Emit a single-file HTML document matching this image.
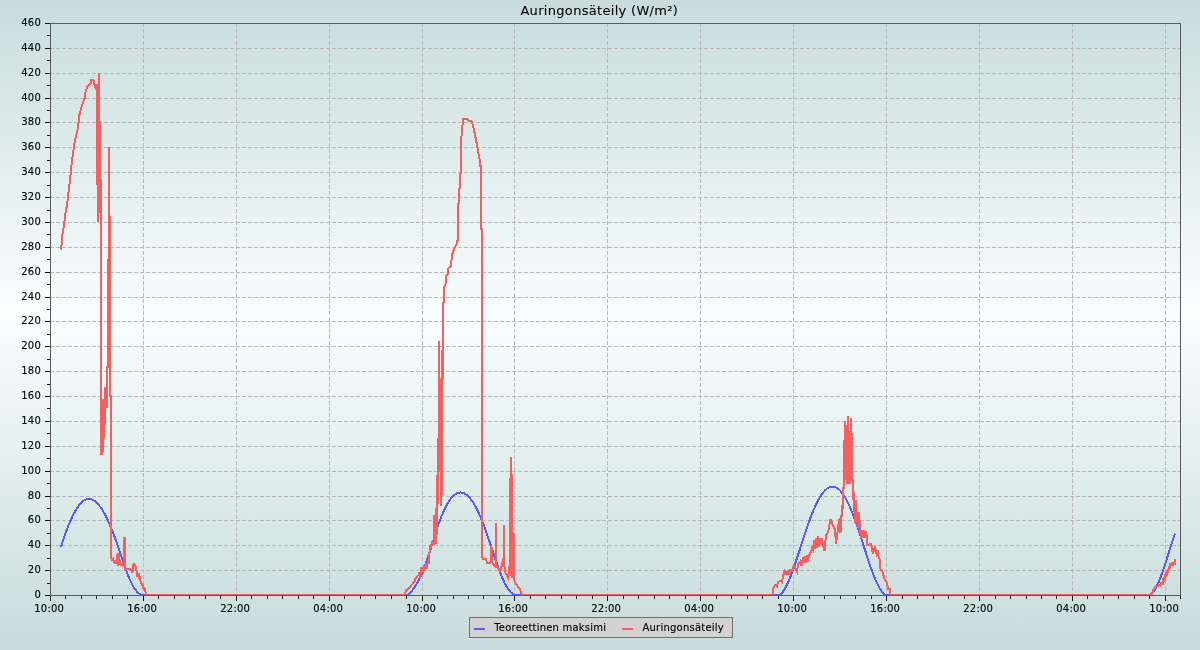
<!DOCTYPE html>
<html lang="fi"><head><meta charset="utf-8"><title>Auringonsäteily (W/m²)</title>
<style>
html,body{margin:0;padding:0;width:1200px;height:650px;overflow:hidden;background:#c8dcdb}
svg{display:block}
text{font-family:"DejaVu Sans","Liberation Sans",sans-serif;fill:#000000;stroke:#000000;stroke-width:0.13px}
.t{font-size:10px;letter-spacing:0.25px}
.l{font-size:10px;letter-spacing:0.22px}
.h{font-size:13px;letter-spacing:0.31px;stroke-width:0.08px}
</style></head><body>
<svg width="1200" height="650" viewBox="0 0 1200 650">
<defs>
<linearGradient id="bg" x1="0" y1="0" x2="0" y2="1"><stop offset="0" stop-color="#c8dcdb"/><stop offset="0.48" stop-color="#fafefe"/><stop offset="1" stop-color="#c7dbda"/></linearGradient>
<linearGradient id="pg" x1="0" y1="0" x2="0" y2="1"><stop offset="0" stop-color="#cbdedd"/><stop offset="0.52" stop-color="#f9fefe"/><stop offset="1" stop-color="#cde0df"/></linearGradient>
<mask id="tm" maskUnits="userSpaceOnUse" x="0" y="0" width="1200" height="650"><rect x="0" y="0" width="1200" height="650" fill="#fff"/></mask>
</defs>
<rect x="0" y="0" width="1200" height="650" fill="url(#bg)"/>
<rect x="51" y="24" width="1129" height="571" fill="url(#pg)"/>
<g stroke="#b9b7b9" stroke-width="1" stroke-dasharray="4 2" shape-rendering="crispEdges" fill="none">
<line x1="143.5" y1="23" x2="143.5" y2="595"/>
<line x1="236.5" y1="23" x2="236.5" y2="595"/>
<line x1="329.5" y1="23" x2="329.5" y2="595"/>
<line x1="422.5" y1="23" x2="422.5" y2="595"/>
<line x1="514.5" y1="23" x2="514.5" y2="595"/>
<line x1="607.5" y1="23" x2="607.5" y2="595"/>
<line x1="700.5" y1="23" x2="700.5" y2="595"/>
<line x1="793.5" y1="23" x2="793.5" y2="595"/>
<line x1="886.5" y1="23" x2="886.5" y2="595"/>
<line x1="979.5" y1="23" x2="979.5" y2="595"/>
<line x1="1072.5" y1="23" x2="1072.5" y2="595"/>
<line x1="1165.5" y1="23" x2="1165.5" y2="595"/>
<line x1="50" y1="570.5" x2="1180" y2="570.5"/>
<line x1="50" y1="545.5" x2="1180" y2="545.5"/>
<line x1="50" y1="520.5" x2="1180" y2="520.5"/>
<line x1="50" y1="496.5" x2="1180" y2="496.5"/>
<line x1="50" y1="471.5" x2="1180" y2="471.5"/>
<line x1="50" y1="446.5" x2="1180" y2="446.5"/>
<line x1="50" y1="421.5" x2="1180" y2="421.5"/>
<line x1="50" y1="396.5" x2="1180" y2="396.5"/>
<line x1="50" y1="371.5" x2="1180" y2="371.5"/>
<line x1="50" y1="346.5" x2="1180" y2="346.5"/>
<line x1="50" y1="321.5" x2="1180" y2="321.5"/>
<line x1="50" y1="297.5" x2="1180" y2="297.5"/>
<line x1="50" y1="272.5" x2="1180" y2="272.5"/>
<line x1="50" y1="247.5" x2="1180" y2="247.5"/>
<line x1="50" y1="222.5" x2="1180" y2="222.5"/>
<line x1="50" y1="197.5" x2="1180" y2="197.5"/>
<line x1="50" y1="172.5" x2="1180" y2="172.5"/>
<line x1="50" y1="147.5" x2="1180" y2="147.5"/>
<line x1="50" y1="122.5" x2="1180" y2="122.5"/>
<line x1="50" y1="98.5" x2="1180" y2="98.5"/>
<line x1="50" y1="73.5" x2="1180" y2="73.5"/>
<line x1="50" y1="48.5" x2="1180" y2="48.5"/>
</g>
<g fill="none" stroke-width="2" stroke-linejoin="miter" stroke-linecap="butt" shape-rendering="crispEdges">
<polyline stroke="#5c5cf5" points="61,547 62,543.77 63,540.65 64,537.62 65,534.7 66,531.88 67,529.17 68,526.57 69,524.07 70,521.69 71,519.42 72,517.26 73,515.21 74,513.28 75,511.46 76,509.76 77,508.18 78,506.72 79,505.38 80,504.16 81,503.06 82,502.09 83,501.25 84,500.53 85,499.95 86,499.49 87,499.16 88,498.96 89,498.9 90,498.97 91,499.17 92,499.49 93,499.95 94,500.52 95,501.22 96,502.04 97,502.98 98,504.03 99,505.2 100,506.49 101,507.88 102,509.38 103,511 104,512.71 105,514.53 106,516.46 107,518.48 108,520.6 109,522.82 110,525.14 111,527.54 112,530.03 113,532.61 114,535.25 115,537.96 116,540.73 117,543.56 118,546.43 119,549.34 120,552.29 121,555.26 122,558.23 123,561.2 124,564.13 125,567.01 126,569.83 127,572.55 128,575.16 129,577.64 130,579.97 131,582.14 132,584.14 133,585.98 134,587.64 135,589.14 136,590.47 137,591.63 138,592.62 139,593.45 140,594.11 141,594.6 142,594.93 143,595 144,595 144.7,594.98 408,595 408,595 409,593.97 410,592.89 411,591.76 412,590.56 413,589.3 414,587.95 415,586.51 416,584.97 417,583.33 418,581.56 419,579.67 420,577.65 421,575.49 422,573.17 423,570.69 424,568.05 425,565.31 426,562.5 427,559.67 428,556.81 429,553.91 430,550.94 431,547.89 432,544.76 433,541.56 434,538.33 435,535.11 436,531.92 437,528.79 438,525.77 439,522.87 440,520.11 441,517.48 442,514.98 443,512.61 444,510.37 445,508.27 446,506.29 447,504.45 448,502.74 449,501.16 450,499.72 451,498.4 452,497.22 453,496.17 454,495.24 455,494.45 456,493.8 457,493.27 458,492.87 459,492.6 460,492.47 461,492.47 462,492.59 463,492.85 464,493.24 465,493.76 466,494.4 467,495.18 468,496.08 469,497.1 470,498.24 471,499.5 472,500.88 473,502.37 474,503.98 475,505.7 476,507.53 477,509.46 478,511.51 479,513.65 480,515.9 481,518.25 482,520.69 483,523.23 484,525.87 485,528.59 486,531.38 487,534.23 488,537.14 489,540.09 490,543.07 491,546.07 492,549.08 493,552.09 494,555.1 495,558.08 496,561.02 497,563.92 498,566.76 499,569.53 500,572.2 501,574.77 502,577.23 503,579.56 504,581.74 505,583.77 506,585.63 507,587.32 508,588.84 509,590.2 510,591.39 511,592.42 512,593.29 513,594.01 514,594.58 515,595 774.7,595 774.7,594.99 775.7,595 776.7,595 777.7,595 778.7,595 779.7,594.9 780.7,594.14 781.7,593.15 782.7,591.94 783.7,590.54 784.7,588.94 785.7,587.17 786.7,585.23 787.7,583.13 788.7,580.89 789.7,578.51 790.7,576.01 791.7,573.39 792.7,570.68 793.7,567.87 794.7,564.99 795.7,562.03 796.7,559.02 797.7,555.97 798.7,552.88 799.7,549.77 800.7,546.65 801.7,543.52 802.7,540.41 803.7,537.31 804.7,534.25 805.7,531.24 806.7,528.28 807.7,525.38 808.7,522.56 809.7,519.82 810.7,517.16 811.7,514.59 812.7,512.11 813.7,509.72 814.7,507.43 815.7,505.24 816.7,503.16 817.7,501.18 818.7,499.32 819.7,497.57 820.7,495.94 821.7,494.44 822.7,493.06 823.7,491.81 824.7,490.69 825.7,489.7 826.7,488.85 827.7,488.12 828.7,487.53 829.7,487.08 830.7,486.76 831.7,486.58 832.7,486.54 833.7,486.63 834.7,486.87 835.7,487.24 836.7,487.76 837.7,488.42 838.7,489.22 839.7,490.16 840.7,491.23 841.7,492.43 842.7,493.76 843.7,495.22 844.7,496.8 845.7,498.51 846.7,500.34 847.7,502.28 848.7,504.34 849.7,506.52 850.7,508.8 851.7,511.2 852.7,513.7 853.7,516.3 854.7,519 855.7,521.79 856.7,524.65 857.7,527.58 858.7,530.57 859.7,533.61 860.7,536.68 861.7,539.78 862.7,542.89 863.7,546.02 864.7,549.13 865.7,552.24 866.7,555.32 867.7,558.38 868.7,561.38 869.7,564.34 870.7,567.23 871.7,570.04 872.7,572.76 873.7,575.39 874.7,577.9 875.7,580.29 876.7,582.55 877.7,584.66 878.7,586.61 879.7,588.4 880.7,590 881.7,591.42 882.7,592.63 883.7,593.63 884.7,594.4 885.7,594.93 886.7,595 887.7,595 888.7,595 1149.4,595 1149.4,595 1150.4,594.64 1151.4,594 1152.4,593.08 1153.4,591.9 1154.4,590.47 1155.4,588.82 1156.4,586.96 1157.4,584.9 1158.4,582.66 1159.4,580.26 1160.4,577.71 1161.4,575.02 1162.4,572.22 1163.4,569.32 1164.4,566.33 1165.4,563.27 1166.4,560.16 1167.4,557.01 1168.4,553.84 1169.4,550.66 1170.4,547.49 1171.4,544.35 1172.4,541.25 1173.4,538.21 1174.4,535.24 1175,533.49"/>
<polyline stroke="#f46060" points="61,249.5 61.8,242 62.5,234 64,225 65.3,214 67,205 68.2,195 69.2,186 70,180 71,170 72,161 73.5,150 75,140 77.5,130 79,120 79.5,114.5 82,105.5 84.5,98.5 85.8,90.5 88,85.5 90.8,83.5 91,79.5 92.5,79.5 94,81 94.5,84.5 96,90 96.5,84.5 97,185 97.5,84.5 98.5,221.5 99,73 99.5,211 100,121 100.8,211 101,404 101.5,455 102,399 102.5,455 103,399 103.5,441 104,399 104.5,427.5 105,387 105.5,407 106,387 106.5,407 107,407 107,367 108,367 108,260 109,260 109,147 109,217 110,217 110,396 111,396 111,558 112,560 113,559 114,562 115,563 116,561 117,563 117.5,554 118.5,554 119,563.5 120,562 121,565 122,565.5 123,563 124,566 124,538 125,538 125,569 127,568.5 130,569 131,570 132,572 133,571 133.5,564 134.5,564 135,566 136,567 136.5,571 137,573 137.5,577 138.5,573 139,579 140,576 140.5,581 142.5,586 143,584 144,589 145,590 145,588 146,595 405.3,595 405.6,590 407,590 410.7,586 414.7,581.3 415,579 418.7,574.7 419,572 420,578 421.5,567 423,571 424,565 425,571 426,563 427,569 428,559 429,564 429.5,552 430,545 431,548 432,541 433,544 434,544 434,516 435,516 435,535 436,544 436,508 437,535 437,475 437.5,508 438,438 438.5,475 439,341 439,466 440,466 440,379 441,379 441,505.5 442,485.5 442,350 443,379 443,303 444,302 444,288 445.5,284 446,280 445.5,276 448,274 448.5,268 451,266 452,255 454,249 457,243 458,238 458,204 459,203 459,189 460,188 460,174 461,173 461,142 462.5,125 463,119 467,118.5 469,121 472,121.5 474,130 477,145 480,162 480,166 481,166 481,229 482,229 482,556 483,559 486,559 487,563 490.5,563 491.5,546.5 492.5,563 494,565 495.5,566 496,523 496.5,567 498,568 500,571 502,565 503,560 503.5,558 504,525 504,562 505,572 506,574 508,578 509,570 510,563 510,500 511,457 511,576 512,474 512,578 513.5,532.5 514,580 516,584 520,589.3 522,595 772.7,595 773,588.7 775.3,584.7 777,586 778,582 780.7,580.7 782,582 783.3,574.7 784.7,571 785.5,575 786.5,571 787.5,575 788.5,570.5 789.5,574.5 790,570 792,571 794,565.3 795,567 797,571.5 798,564 800.5,561 801.5,566 803,557 804,563 805,556 806,563 807,555.5 808,562 809,555 811,552 812,548 813,550 814,540 815,549 816,538 817,548 818,536.5 819,547 820,538 821,545 822,538 823,545 824.5,551 826,535 827.5,533 829,529 830,520 831,520 833,526 835,529 836,543.5 838,528 839,520 840,518 840.5,533 841,516 842,516 842,505 843,509 843,488 844,488 844,440 845,472 845,421.5 846,480 846.5,425 847,483.5 848,416 848.5,483.5 849.5,431 850,483.5 851,418 851.5,480 852,433 852,480 853,480 853,500 854,492 854,512 855,500 855,523 856,500 856,523 857,512 858,528 859,512 860,528 861,538 862,530 863,538 864,530 865,538 866,531 867,539 867,545 871,544 873,554 875,546 876.5,554 878,550 878,555 880,560 880,568 883,573 884,578 887,583 888,588.7 890,588.7 890,595 1152,595 1153,590 1154,589.5 1155.6,586 1157,586.5 1159.4,585 1160,585.5 1161,583 1162,583.5 1163,580 1163.5,581.5 1164.5,577.5 1165,579 1166,574.5 1166.5,576 1167.5,570.5 1168,572.5 1169,566.5 1169.5,569 1170.5,563 1171,565 1172,563.5 1173,565 1174,563.5 1175,564 1175,558.5"/>
</g>
<rect x="50.5" y="23.5" width="1130" height="572" fill="none" stroke="#5a5a5a" stroke-width="1" shape-rendering="crispEdges"/>
<g stroke="#111111" stroke-width="1" shape-rendering="crispEdges">
<line x1="45" y1="595.5" x2="50" y2="595.5"/>
<line x1="47" y1="583.5" x2="50" y2="583.5"/>
<line x1="45" y1="570.5" x2="50" y2="570.5"/>
<line x1="47" y1="558.5" x2="50" y2="558.5"/>
<line x1="45" y1="545.5" x2="50" y2="545.5"/>
<line x1="47" y1="533.5" x2="50" y2="533.5"/>
<line x1="45" y1="520.5" x2="50" y2="520.5"/>
<line x1="47" y1="508.5" x2="50" y2="508.5"/>
<line x1="45" y1="496.5" x2="50" y2="496.5"/>
<line x1="47" y1="483.5" x2="50" y2="483.5"/>
<line x1="45" y1="471.5" x2="50" y2="471.5"/>
<line x1="47" y1="458.5" x2="50" y2="458.5"/>
<line x1="45" y1="446.5" x2="50" y2="446.5"/>
<line x1="47" y1="433.5" x2="50" y2="433.5"/>
<line x1="45" y1="421.5" x2="50" y2="421.5"/>
<line x1="47" y1="408.5" x2="50" y2="408.5"/>
<line x1="45" y1="396.5" x2="50" y2="396.5"/>
<line x1="47" y1="384.5" x2="50" y2="384.5"/>
<line x1="45" y1="371.5" x2="50" y2="371.5"/>
<line x1="47" y1="359.5" x2="50" y2="359.5"/>
<line x1="45" y1="346.5" x2="50" y2="346.5"/>
<line x1="47" y1="334.5" x2="50" y2="334.5"/>
<line x1="45" y1="321.5" x2="50" y2="321.5"/>
<line x1="47" y1="309.5" x2="50" y2="309.5"/>
<line x1="45" y1="297.5" x2="50" y2="297.5"/>
<line x1="47" y1="284.5" x2="50" y2="284.5"/>
<line x1="45" y1="272.5" x2="50" y2="272.5"/>
<line x1="47" y1="259.5" x2="50" y2="259.5"/>
<line x1="45" y1="247.5" x2="50" y2="247.5"/>
<line x1="47" y1="234.5" x2="50" y2="234.5"/>
<line x1="45" y1="222.5" x2="50" y2="222.5"/>
<line x1="47" y1="210.5" x2="50" y2="210.5"/>
<line x1="45" y1="197.5" x2="50" y2="197.5"/>
<line x1="47" y1="185.5" x2="50" y2="185.5"/>
<line x1="45" y1="172.5" x2="50" y2="172.5"/>
<line x1="47" y1="160.5" x2="50" y2="160.5"/>
<line x1="45" y1="147.5" x2="50" y2="147.5"/>
<line x1="47" y1="135.5" x2="50" y2="135.5"/>
<line x1="45" y1="122.5" x2="50" y2="122.5"/>
<line x1="47" y1="110.5" x2="50" y2="110.5"/>
<line x1="45" y1="98.5" x2="50" y2="98.5"/>
<line x1="47" y1="85.5" x2="50" y2="85.5"/>
<line x1="45" y1="73.5" x2="50" y2="73.5"/>
<line x1="47" y1="60.5" x2="50" y2="60.5"/>
<line x1="45" y1="48.5" x2="50" y2="48.5"/>
<line x1="47" y1="35.5" x2="50" y2="35.5"/>
<line x1="45" y1="23.5" x2="50" y2="23.5"/>
<line x1="50.5" y1="596" x2="50.5" y2="601"/>
<line x1="65.5" y1="596" x2="65.5" y2="599"/>
<line x1="81.5" y1="596" x2="81.5" y2="599"/>
<line x1="96.5" y1="596" x2="96.5" y2="599"/>
<line x1="112.5" y1="596" x2="112.5" y2="599"/>
<line x1="127.5" y1="596" x2="127.5" y2="599"/>
<line x1="143.5" y1="596" x2="143.5" y2="601"/>
<line x1="158.5" y1="596" x2="158.5" y2="599"/>
<line x1="174.5" y1="596" x2="174.5" y2="599"/>
<line x1="189.5" y1="596" x2="189.5" y2="599"/>
<line x1="205.5" y1="596" x2="205.5" y2="599"/>
<line x1="220.5" y1="596" x2="220.5" y2="599"/>
<line x1="236.5" y1="596" x2="236.5" y2="601"/>
<line x1="251.5" y1="596" x2="251.5" y2="599"/>
<line x1="267.5" y1="596" x2="267.5" y2="599"/>
<line x1="282.5" y1="596" x2="282.5" y2="599"/>
<line x1="298.5" y1="596" x2="298.5" y2="599"/>
<line x1="313.5" y1="596" x2="313.5" y2="599"/>
<line x1="329.5" y1="596" x2="329.5" y2="601"/>
<line x1="344.5" y1="596" x2="344.5" y2="599"/>
<line x1="360.5" y1="596" x2="360.5" y2="599"/>
<line x1="375.5" y1="596" x2="375.5" y2="599"/>
<line x1="391.5" y1="596" x2="391.5" y2="599"/>
<line x1="406.5" y1="596" x2="406.5" y2="599"/>
<line x1="422.5" y1="596" x2="422.5" y2="601"/>
<line x1="437.5" y1="596" x2="437.5" y2="599"/>
<line x1="453.5" y1="596" x2="453.5" y2="599"/>
<line x1="468.5" y1="596" x2="468.5" y2="599"/>
<line x1="483.5" y1="596" x2="483.5" y2="599"/>
<line x1="499.5" y1="596" x2="499.5" y2="599"/>
<line x1="514.5" y1="596" x2="514.5" y2="601"/>
<line x1="530.5" y1="596" x2="530.5" y2="599"/>
<line x1="545.5" y1="596" x2="545.5" y2="599"/>
<line x1="561.5" y1="596" x2="561.5" y2="599"/>
<line x1="576.5" y1="596" x2="576.5" y2="599"/>
<line x1="592.5" y1="596" x2="592.5" y2="599"/>
<line x1="607.5" y1="596" x2="607.5" y2="601"/>
<line x1="623.5" y1="596" x2="623.5" y2="599"/>
<line x1="638.5" y1="596" x2="638.5" y2="599"/>
<line x1="654.5" y1="596" x2="654.5" y2="599"/>
<line x1="669.5" y1="596" x2="669.5" y2="599"/>
<line x1="685.5" y1="596" x2="685.5" y2="599"/>
<line x1="700.5" y1="596" x2="700.5" y2="601"/>
<line x1="716.5" y1="596" x2="716.5" y2="599"/>
<line x1="731.5" y1="596" x2="731.5" y2="599"/>
<line x1="747.5" y1="596" x2="747.5" y2="599"/>
<line x1="762.5" y1="596" x2="762.5" y2="599"/>
<line x1="778.5" y1="596" x2="778.5" y2="599"/>
<line x1="793.5" y1="596" x2="793.5" y2="601"/>
<line x1="809.5" y1="596" x2="809.5" y2="599"/>
<line x1="824.5" y1="596" x2="824.5" y2="599"/>
<line x1="840.5" y1="596" x2="840.5" y2="599"/>
<line x1="855.5" y1="596" x2="855.5" y2="599"/>
<line x1="871.5" y1="596" x2="871.5" y2="599"/>
<line x1="886.5" y1="596" x2="886.5" y2="601"/>
<line x1="902.5" y1="596" x2="902.5" y2="599"/>
<line x1="917.5" y1="596" x2="917.5" y2="599"/>
<line x1="933.5" y1="596" x2="933.5" y2="599"/>
<line x1="948.5" y1="596" x2="948.5" y2="599"/>
<line x1="964.5" y1="596" x2="964.5" y2="599"/>
<line x1="979.5" y1="596" x2="979.5" y2="601"/>
<line x1="995.5" y1="596" x2="995.5" y2="599"/>
<line x1="1010.5" y1="596" x2="1010.5" y2="599"/>
<line x1="1026.5" y1="596" x2="1026.5" y2="599"/>
<line x1="1041.5" y1="596" x2="1041.5" y2="599"/>
<line x1="1056.5" y1="596" x2="1056.5" y2="599"/>
<line x1="1072.5" y1="596" x2="1072.5" y2="601"/>
<line x1="1087.5" y1="596" x2="1087.5" y2="599"/>
<line x1="1103.5" y1="596" x2="1103.5" y2="599"/>
<line x1="1118.5" y1="596" x2="1118.5" y2="599"/>
<line x1="1134.5" y1="596" x2="1134.5" y2="599"/>
<line x1="1149.5" y1="596" x2="1149.5" y2="599"/>
<line x1="1165.5" y1="596" x2="1165.5" y2="601"/>
<line x1="1180.5" y1="596" x2="1180.5" y2="599"/>
</g>
<g mask="url(#tm)">
<g class="t" text-anchor="end">
<text x="41" y="597.7">0</text>
<text x="41" y="572.7">20</text>
<text x="41" y="547.7">40</text>
<text x="41" y="522.7">60</text>
<text x="41" y="498.7">80</text>
<text x="41" y="473.7">100</text>
<text x="41" y="448.7">120</text>
<text x="41" y="423.7">140</text>
<text x="41" y="398.7">160</text>
<text x="41" y="373.7">180</text>
<text x="41" y="348.7">200</text>
<text x="41" y="323.7">220</text>
<text x="41" y="299.7">240</text>
<text x="41" y="274.7">260</text>
<text x="41" y="249.7">280</text>
<text x="41" y="224.7">300</text>
<text x="41" y="199.7">320</text>
<text x="41" y="174.7">340</text>
<text x="41" y="149.7">360</text>
<text x="41" y="124.7">380</text>
<text x="41" y="100.7">400</text>
<text x="41" y="75.7">420</text>
<text x="41" y="50.7">440</text>
<text x="41" y="25.7">460</text>
</g>
<g class="t" text-anchor="middle">
<text x="49.2" y="612">10:00</text>
<text x="142.2" y="612">16:00</text>
<text x="235.2" y="612">22:00</text>
<text x="328.2" y="612">04:00</text>
<text x="421.2" y="612">10:00</text>
<text x="513.2" y="612">16:00</text>
<text x="606.2" y="612">22:00</text>
<text x="699.2" y="612">04:00</text>
<text x="792.2" y="612">10:00</text>
<text x="885.2" y="612">16:00</text>
<text x="978.2" y="612">22:00</text>
<text x="1071.2" y="612">04:00</text>
<text x="1164.2" y="612">10:00</text>
</g>
<text class="h" text-anchor="middle" x="599.3" y="15">Auringonsäteily (W/m²)</text>
<rect x="469.5" y="617.5" width="263" height="20" fill="#d2d2d2" stroke="#707070" stroke-width="1" shape-rendering="crispEdges"/>
<g stroke-width="2" shape-rendering="crispEdges">
<line x1="474" y1="629" x2="485" y2="629" stroke="#5c5cf5"/>
<line x1="622" y1="629" x2="633" y2="629" stroke="#f46060"/>
</g>
<text class="l" x="494.2" y="631">Teoreettinen maksimi</text>
<text class="l" x="642.5" y="631">Auringonsäteily</text>
</g>
</svg>
</body></html>
